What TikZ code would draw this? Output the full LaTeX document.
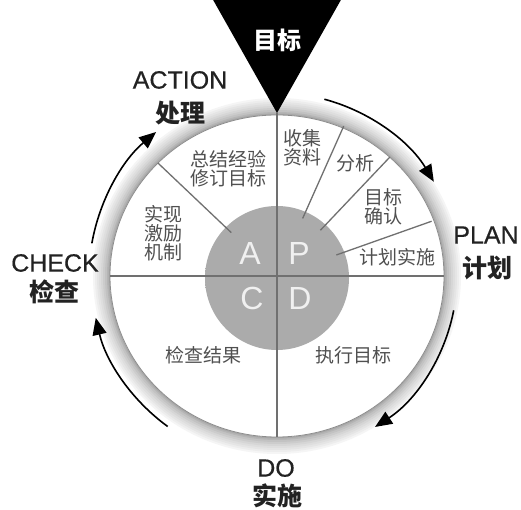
\documentclass[tikz,border=0pt]{standalone}
\usepackage{fontspec}
\setmainfont{Liberation Sans}
\newfontfamily\cjk{Noto Sans CJK SC}
\newfontfamily\engfont[FakeBold=0.5]{Liberation Sans}
\usetikzlibrary{arrows.meta,calc}
\definecolor{diskgray}{HTML}{ABABAB}
\definecolor{linegray}{HTML}{707070}
\definecolor{txtgray}{HTML}{505050}
\definecolor{labgray}{HTML}{222222}
\definecolor{innershd}{HTML}{CCCCCC}
\pgfdeclareradialshading{softdisk}{\pgfpointorigin}{color(0bp)=(diskgray); color(41bp)=(diskgray); color(50bp)=(white)}
\pgfdeclareradialshading{innershade}{\pgfpointorigin}{color(0bp)=(white); color(46.5bp)=(white); color(50bp)=(innershd)}
\begin{document}
\begin{tikzpicture}[x=1pt,y=1pt,
  quad/.style={font=\cjk\fontsize{19}{19}\selectfont, text=txtgray, align=center, inner sep=0pt},
  eng/.style={font=\engfont\fontsize{25}{25}\selectfont, text=labgray, inner sep=0pt},
  cnb/.style={font=\cjk\bfseries\fontsize{25}{25}\selectfont, text=labgray, inner sep=0pt},
  letter/.style={font=\fontsize{32}{32}\selectfont, text=white!94!black, inner sep=0pt},
  divline/.style={draw=linegray, line width=1.3pt},
  cyc/.style={draw=black, line width=1.6pt, -{Triangle[length=17pt,width=14pt]}}]
\useasboundingbox (0,0) rectangle (521,510);
\fill[white] (0,0) rectangle (521,510);
\coordinate (C) at (277,234);
% halo ring (stepped gradient) and white face
\foreach \i/\c in {17/4,15/7,13/10,11/13,9/16,7/20,5/24,3/29,1.5/34}{
  \fill[black!\c] (C) ellipse[x radius=167+\i, y radius=161+\i];
}
\fill[white] (C) ellipse[x radius=167, y radius=161];
\shade[shading=innershade] (C) ellipse[x radius=167, y radius=161];
\draw[black!45, line width=0.8pt] (C) ellipse[x radius=167, y radius=161];
% inner disk
\shade[shading=softdisk] (277,232) circle (72);
% triangle
\fill[black] (212,512) -- (342,512) -- (277,397) -- cycle;
\node[font=\cjk\bfseries\fontsize{24}{24}\selectfont, text=white, inner sep=0pt] (goal) at (277,470) {目标};
% cross lines
\coordinate (apex) at (277,397);
\coordinate (bot) at (277,73);
\coordinate (lft) at (110,234);
\coordinate (rgt) at (444,234);
\draw[divline] (apex) -- (bot);
\draw[divline] (lft) -- (rgt);
% radial lines
\foreach \a in {66,46.5,19.5,136.5}{
  \draw[divline] ($(C)+(\a:63)$) -- ($(C)+(\a:164)$);
}
% quadrant texts
\node[quad] (t1) at (302,362.5) {收集\\资料};
\node[quad] (t2) at (355,347) {分析};
\node[quad] (t3) at (383,303.5) {目标\\确认};
\node[quad] (t4) at (397,253) {计划实施};
\node[quad] (t5) at (228,341) {总结经验\\修订目标};
\node[quad] (t6) at (163,276.5) {实现\\激励\\机制};
\node[quad] (t7) at (203,155) {检查结果};
\node[quad] (t8) at (353,155) {执行目标};
% letters
\node[letter] (A) at (250,257) {A};
\node[letter] (P) at (299,257) {P};
\node[letter] (Cl) at (252,212) {C};
\node[letter] (D) at (300,212) {D};
% outer labels
\node[eng] (action) at (180,430) {ACTION};
\node[cnb] (action2) at (180,397) {处理};
\node[eng] (plan) at (486,275) {PLAN};
\node[cnb] (plan2) at (487,242) {计划};
\node[eng] (check) at (55,247) {CHECK};
\node[cnb] (check2) at (54,218) {检查};
\node[eng] (do) at (276,42) {DO};
\node[cnb] (do2) at (277,14) {实施};
% cycle arrows
\draw[cyc] ($(C)+(75:183)$) arc[start angle=75, end angle=31, radius=183];
\draw[cyc] ($(C)+(-11:180)$) arc[start angle=-11, end angle=-57, radius=180];
\draw[cyc] ($(C)+(234:186)$) arc[start angle=234, end angle=193, radius=186];
\draw[cyc] ($(C)+(170:188)$) arc[start angle=170, end angle=130, radius=188];
\end{tikzpicture}
\end{document}
